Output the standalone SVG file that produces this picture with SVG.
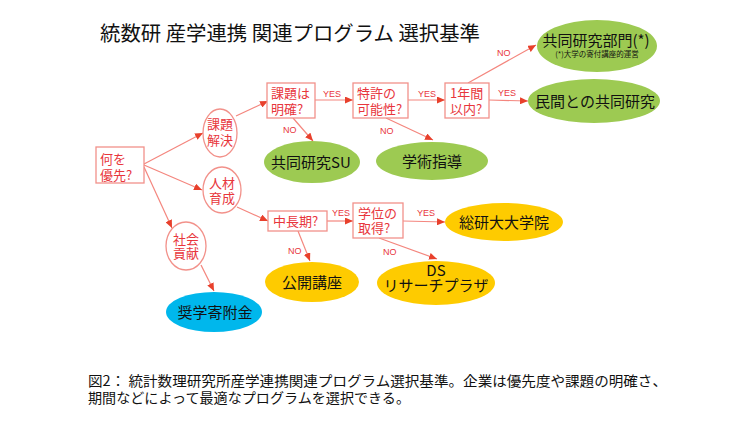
<svg xmlns="http://www.w3.org/2000/svg" width="750" height="432" viewBox="0 0 750 432">
<defs>
<marker id="ah" markerUnits="userSpaceOnUse" markerWidth="8" markerHeight="7" refX="8" refY="3.5" orient="auto">
<path d="M0,0 L8,3.5 L0,7 z" fill="#e8402c"/>
</marker>
<style>
.q{fill:#fff;stroke:#f2918a;stroke-width:1.3}
.qt{font-family:"Noto Sans CJK JP",sans-serif;font-size:13px;fill:#e8363c}
.et{font-family:"Noto Sans CJK JP",sans-serif;font-size:15px;fill:#111;text-anchor:middle}
.g{fill:#9dca52}
.y{fill:#fecb00}
.b{fill:#00b7ec}
.lbl{font-family:"Liberation Sans",sans-serif;font-size:9px;fill:#e8363c}
.c line{stroke:#f4867e;stroke-width:1.2;marker-end:url(#ah)}
</style>
</defs>
<rect width="750" height="432" fill="#fff"/>
<text x="100" y="41" font-family="'Noto Sans CJK JP',sans-serif" font-size="20" fill="#111" textLength="380" lengthAdjust="spacingAndGlyphs">統数研 産学連携 関連プログラム 選択基準</text>

<g class="c" id="connectors">
<line x1="144" y1="164" x2="203" y2="133"/>
<line x1="144" y1="165" x2="202" y2="190"/>
<line x1="144" y1="167" x2="172" y2="228"/>
<line x1="236" y1="116" x2="268" y2="101"/>
<line x1="315" y1="100" x2="353" y2="100"/>
<line x1="293" y1="118" x2="313" y2="141"/>
<line x1="408" y1="100" x2="445" y2="100"/>
<line x1="386" y1="118" x2="433" y2="140"/>
<line x1="468" y1="83" x2="536" y2="45"/>
<line x1="489" y1="100" x2="528" y2="101"/>
<line x1="237" y1="207" x2="268" y2="221"/>
<line x1="327" y1="221" x2="353" y2="221"/>
<line x1="298" y1="231" x2="310" y2="261"/>
<line x1="403" y1="221" x2="445" y2="222"/>
<line x1="379" y1="238" x2="437" y2="259"/>
<line x1="201" y1="265" x2="214" y2="291"/>
<text class="lbl" x="323" y="97">YES</text>
<text class="lbl" x="418" y="97">YES</text>
<text class="lbl" x="283" y="133">NO</text>
<text class="lbl" x="380" y="134">NO</text>
<text class="lbl" x="497" y="56">NO</text>
<text class="lbl" x="498" y="96">YES</text>
<text class="lbl" x="332" y="216">YES</text>
<text class="lbl" x="288" y="254">NO</text>
<text class="lbl" x="417" y="216">YES</text>
<text class="lbl" x="383" y="255">NO</text>
</g>

<g id="n-priority"><rect class="q" x="96" y="147" width="48" height="36"/><text class="qt"><tspan x="100" y="164">何を</tspan><tspan x="100" y="180">優先?</tspan></text></g>
<g id="n-kadai"><ellipse class="q" cx="220" cy="133" rx="17" ry="24"/><text class="qt" text-anchor="middle"><tspan x="220" y="129">課題</tspan><tspan x="220" y="145">解決</tspan></text></g>
<g id="n-jinzai"><ellipse class="q" cx="222" cy="190" rx="19" ry="23"/><text class="qt" text-anchor="middle"><tspan x="222" y="188">人材</tspan><tspan x="222" y="203">育成</tspan></text></g>
<g id="n-shakai"><ellipse class="q" cx="186" cy="246" rx="20" ry="24"/><text class="qt" text-anchor="middle"><tspan x="186" y="244">社会</tspan><tspan x="186" y="258">貢献</tspan></text></g>
<g id="n-meikaku"><rect class="q" x="267" y="83" width="48" height="35"/><text class="qt"><tspan x="271" y="98">課題は</tspan><tspan x="271" y="114">明確?</tspan></text></g>
<g id="n-tokkyo"><rect class="q" x="353" y="83" width="55" height="35"/><text class="qt"><tspan x="357" y="98">特許の</tspan><tspan x="357" y="114">可能性?</tspan></text></g>
<g id="n-1year"><rect class="q" x="445" y="83" width="44" height="35"/><text class="qt"><tspan x="450" y="98">1年間</tspan><tspan x="450" y="114">以内?</tspan></text></g>
<g id="n-chuchoki"><rect class="q" x="268" y="211" width="59" height="20"/><text class="qt" x="273" y="226">中長期?</text></g>
<g id="n-gakui"><rect class="q" x="353" y="203" width="50" height="35"/><text class="qt"><tspan x="358" y="218">学位の</tspan><tspan x="358" y="233">取得?</tspan></text></g>

<g id="n-bumon"><ellipse class="g" cx="597" cy="46" rx="60" ry="26"/><text class="et"><tspan x="596" y="46">共同研究部門(*)</tspan><tspan x="597" y="57" font-size="7.5">(*)大学の寄付講座的運営</tspan></text></g>
<g id="n-minkan"><ellipse class="g" cx="594" cy="101" rx="66" ry="22"/><text class="et" x="595" y="107">民間との共同研究</text></g>
<g id="n-su"><ellipse class="g" cx="312" cy="162" rx="48" ry="21"/><text class="et" x="311" y="168">共同研究SU</text></g>
<g id="n-gakujutsu"><ellipse class="g" cx="432" cy="161" rx="56" ry="19"/><text class="et" x="432" y="167">学術指導</text></g>
<g id="n-koukai"><ellipse class="y" cx="312" cy="282" rx="47" ry="20"/><text class="et" x="312" y="288">公開講座</text></g>
<g id="n-soken"><ellipse class="y" cx="504" cy="222" rx="59" ry="19"/><text class="et" x="504" y="228">総研大大学院</text></g>
<g id="n-ds"><ellipse class="y" cx="436" cy="283" rx="59" ry="22"/><text class="et"><tspan x="436" y="276">DS</tspan><tspan x="436" y="291">リサーチプラザ</tspan></text></g>
<g id="n-shougaku"><ellipse class="b" cx="214" cy="312" rx="48" ry="20"/><text class="et" x="215" y="318">奨学寄附金</text></g>

<g id="caption" font-family="'Noto Sans CJK JP',sans-serif" font-size="14" fill="#111">
<text><tspan x="88" y="386" textLength="579" lengthAdjust="spacingAndGlyphs">図2： 統計数理研究所産学連携関連プログラム選択基準。企業は優先度や課題の明確さ、</tspan><tspan x="88" y="403" textLength="322" lengthAdjust="spacingAndGlyphs">期間などによって最適なプログラムを選択できる。</tspan></text>
</g>
</svg>
